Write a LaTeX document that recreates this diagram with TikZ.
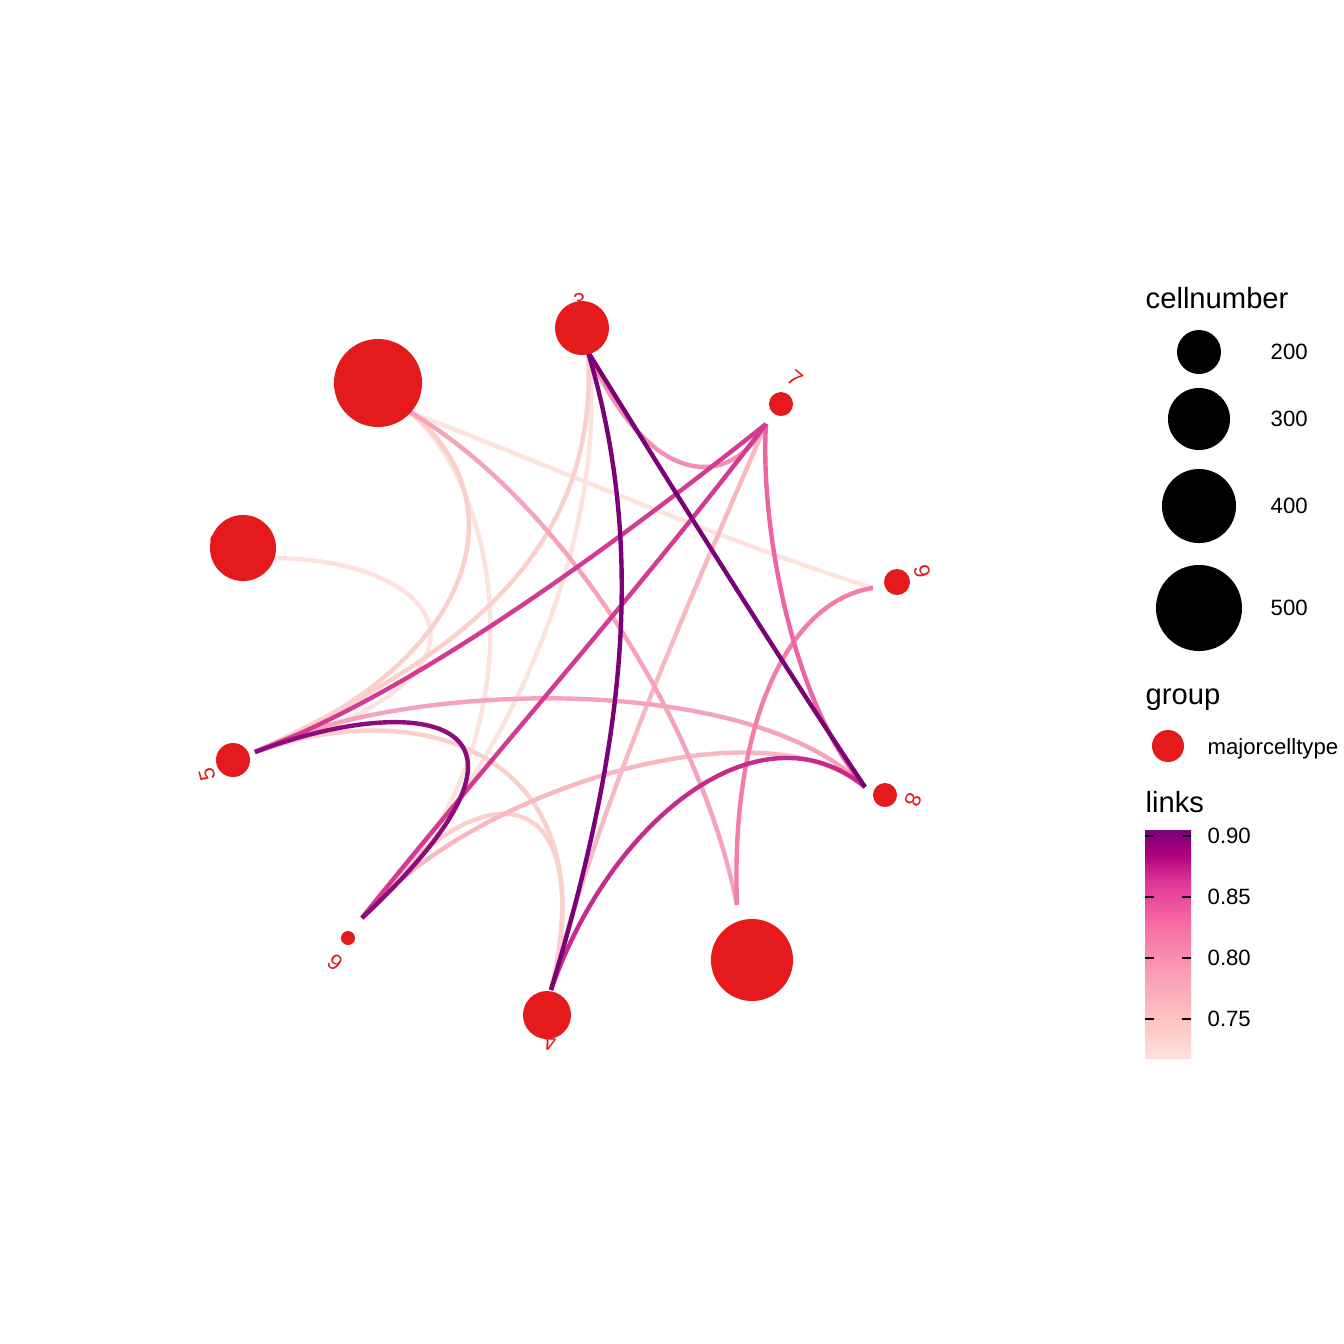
\documentclass[tikz,border=0pt]{standalone}
\usepackage{fontspec}
\setmainfont{Liberation Sans}
\usetikzlibrary{positioning}

\definecolor{nodered}{HTML}{E41A1C}
\definecolor{lkA}{HTML}{7A0177}
\definecolor{lkB}{HTML}{8E0B7C}
\definecolor{lkC}{HTML}{C72A8E}
\definecolor{lkD}{HTML}{D23A93}
\definecolor{lkE}{HTML}{EE64A0}
\definecolor{lkF}{HTML}{F27DA8}
\definecolor{lkG}{HTML}{F48FB2}
\definecolor{lkH}{HTML}{F6A2B9}
\definecolor{lkI}{HTML}{F9B8C1}
\definecolor{lkJ}{HTML}{FBD0CA}
\definecolor{lkK}{HTML}{FDE3DE}
\definecolor{rp1}{HTML}{FDE0DD}
\definecolor{rp2}{HTML}{FCC5C0}
\definecolor{rp3}{HTML}{FA9FB5}
\definecolor{rp4}{HTML}{F768A1}
\definecolor{rp5}{HTML}{DD3497}
\definecolor{rp6}{HTML}{AE017E}
\definecolor{rp7}{HTML}{7A0177}

\begin{document}
\begin{tikzpicture}[x=0.01cm, y=-0.01cm,
    cell/.style={circle, fill=nodered, inner sep=0pt},
    sizekey/.style={circle, fill=black, inner sep=0pt},
    link/.style={line width=1.25pt},
    clabel/.style={text=nodered, font=\fontsize{6.3}{7}\selectfont, inner sep=0pt},
    legtitle/.style={font=\fontsize{8.3}{10}\selectfont, inner sep=0pt, anchor=base west},
    legtext/.style={font=\fontsize{6.3}{7.5}\selectfont, inner sep=0pt, anchor=west}]
  \fill[white] (0,0) rectangle (1344,1344);
  \useasboundingbox (0,0) rectangle (1344,1344);

  % edge ends
  \coordinate (e3) at (588,352);
  \coordinate (e1) at (410,412);
  \coordinate (e2) at (275,558);
  \coordinate (e5) at (255,752);
  \coordinate (e6) at (362,918);
  \coordinate (e4) at (551,990);
  \coordinate (e0) at (737,905);
  \coordinate (e8) at (865,787);
  \coordinate (e9) at (873,588);
  \coordinate (e7) at (766,424);

  % links, light to dark
  \draw[link, lkK] (e1) .. controls (560,470) and (720,540) .. (e9);
  \draw[link, lkK] (e2) .. controls (450,560) and (520,680) .. (e5);
  \draw[link, lkK] (e6) .. controls (520,760) and (610,520) .. (e3);
  \draw[link, lkK] (e6) .. controls (540,760) and (510,500) .. (e1);
  \draw[link, lkJ] (e5) .. controls (450,660) and (600,560) .. (e3);
  \draw[link, lkJ] (e5) .. controls (480,660) and (520,500) .. (e1);
  \draw[link, lkJ] (e5) .. controls (430,690) and (610,760) .. (e4);
  \draw[link, lkJ] (e6) .. controls (480,760) and (600,780) .. (e4);
  \draw[link, lkI] (e7) .. controls (690,600) and (600,800) .. (e4);
  \draw[link, lkI] (e6) .. controls (470,790) and (760,700) .. (e8);
  \draw[link, lkH] (e1) .. controls (560,500) and (700,720) .. (e0);
  \draw[link, lkH] (e5) .. controls (400,680) and (750,670) .. (e8);
  \draw[link, lkG] (e3) .. controls (650,490) and (730,490) .. (e7);
  \draw[link, lkF] (e0) .. controls (730,720) and (790,600) .. (e9);
  \draw[link, lkE] (e8) .. controls (790,700) and (760,520) .. (e7);
  \draw[link, lkD] (e5) .. controls (420,690) and (620,540) .. (e7);
  \draw[link, lkD] (e6) .. controls (480,770) and (640,590) .. (e7);
  \draw[link, lkC] (e4) .. controls (610,820) and (760,700) .. (e8);
  \draw[link, lkB] (e5) .. controls (420,690) and (580,715) .. (e6);
  \draw[link, lkA] (e3) .. controls (680,500) and (780,660) .. (e8);
  \draw[link, lkA] (e3) .. controls (650,560) and (620,760) .. (e4);

  % cluster labels (partly under the dots)
  \node[clabel, rotate=-3] (l3) at (579,301) {3};
  \node[clabel, rotate=69] (l2) at (218,541) {2};
  \node[clabel, rotate=-39] (l7) at (795,378) {7};
  \node[clabel, rotate=-75] (l9) at (922,571) {9};
  \node[clabel, rotate=-111] (l8) at (913,800) {8};
  \node[clabel, rotate=177] (l4) at (550,1043) {4};
  \node[clabel, rotate=141] (l6) at (335,963) {6};
  \node[clabel, rotate=105] (l5) at (207,774) {5};

  % clusters
  \node[cell, minimum size=0.54cm] (c3) at (582,328) {};
  \node[cell, minimum size=0.88cm] (c1) at (378,383) {};
  \node[cell, minimum size=0.66cm] (c2) at (243,548) {};
  \node[cell, minimum size=0.34cm] (c5) at (233,760) {};
  \node[cell, minimum size=0.14cm] (c6) at (348,938) {};
  \node[cell, minimum size=0.48cm] (c4) at (547,1015) {};
  \node[cell, minimum size=0.82cm] (c0) at (752,960) {};
  \node[cell, minimum size=0.24cm] (c8) at (885,795) {};
  \node[cell, minimum size=0.26cm] (c9) at (897,582) {};
  \node[cell, minimum size=0.24cm] (c7) at (781,404) {};

  % legend: cellnumber
  \node[legtitle] (tsize) at (1145,308) {cellnumber};
  \node[sizekey, minimum size=0.44cm] (k200) at (1199,352) {};
  \node[sizekey, minimum size=0.62cm] (k300) at (1199,419) {};
  \node[sizekey, minimum size=0.74cm] (k400) at (1199,506) {};
  \node[sizekey, minimum size=0.86cm] (k500) at (1199,608) {};
  \node[legtext] at (1270,352) {200};
  \node[legtext] at (1270,419) {300};
  \node[legtext] at (1270,506) {400};
  \node[legtext] at (1270,608) {500};

  % legend: group
  \node[legtitle] (tgroup) at (1145,704) {group};
  \node[cell, minimum size=0.32cm] (kgroup) at (1168,746) {};
  \node[legtext, anchor=base west] at (1207,754) {majorcelltype};

  % legend: links
  \node[legtitle] (tlinks) at (1145,812) {links};
  \shade[top color=rp2, bottom color=rp1] (1145,1020) rectangle (1191,1058);
  \shade[top color=rp3, bottom color=rp2] (1145,975) rectangle (1191,1020.5);
  \shade[top color=rp4, bottom color=rp3] (1145,920) rectangle (1191,975.5);
  \shade[top color=rp5, bottom color=rp4] (1145,880) rectangle (1191,920.5);
  \shade[top color=rp6, bottom color=rp5] (1145,855) rectangle (1191,880.5);
  \shade[top color=rp7, bottom color=rp6] (1145,830) rectangle (1191,855.5);
  \foreach \yy/\val in {836/0.90, 897/0.85, 958/0.80, 1019/0.75} {
    \draw[black, line width=0.5pt] (1145,\yy) -- (1154,\yy);
    \draw[black, line width=0.5pt] (1182,\yy) -- (1191,\yy);
    \node[legtext] at (1207,\yy) {\val};
  }
\end{tikzpicture}
\end{document}
